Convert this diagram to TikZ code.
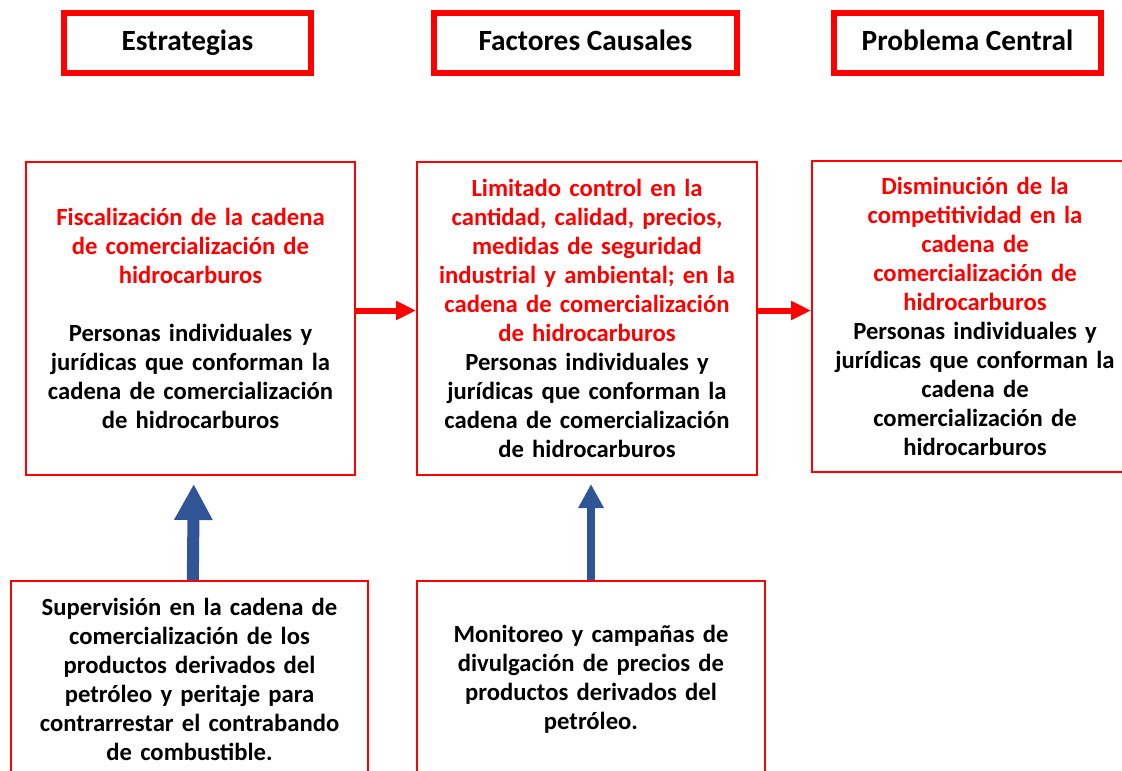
\documentclass[tikz,border=0pt]{standalone}
\usepackage{fontspec}
\setmainfont{Carlito}
\usetikzlibrary{arrows.meta}
\definecolor{rojo}{RGB}{255,0,0}
\definecolor{azul}{RGB}{47,85,151}
\tikzset{
  titulo/.style={draw=rojo,line width=4.5pt,minimum height=45pt,inner sep=0pt,
    text height=15pt,text depth=4pt,font=\fontsize{22}{26}\selectfont\bfseries},
  caja/.style={draw=rojo,line width=1.5pt,inner sep=0pt,align=center,
    font=\fontsize{18.5}{21.75}\selectfont\bfseries},
  flecha/.style={rojo,line width=4.5pt,-{Triangle[length=15pt,width=13.5pt]}},
  subir/.style={azul,line width=9pt,-{Triangle[length=27pt,width=27pt]}}
}
\begin{document}
\begin{tikzpicture}[x=0.75pt,y=-0.75pt]
    \useasboundingbox (0,0) rectangle (1122,771);
    % titulos
    \node[titulo,minimum width=185.25pt] (t1) at (187.5,43) {Estrategias};
    \node[titulo,minimum width=227.25pt] (t2) at (585.5,43) {Factores Causales};
    \node[titulo,minimum width=200.25pt] (t3) at (967.5,43) {Problema Central};
    % cajas
    \node[caja,text width=246.75pt,minimum height=234.75pt] (estr) at (190.5,318.5)
      {\color{rojo}Fiscalización de la cadena\\de comercialización de\\hidrocarburos\\[21.75pt]
       \color{black}Personas individuales y\\jurídicas que conforman la\\cadena de comercialización\\de hidrocarburos};
    \node[caja,text width=255pt,minimum height=234.75pt] (caus) at (587,318.5)
      {\color{rojo}Limitado control en la\\cantidad, calidad, precios,\\medidas de seguridad\\industrial y ambiental; en la\\cadena de comercialización\\de hidrocarburos\\
       \color{black}Personas individuales y\\jurídicas que conforman la\\cadena de comercialización\\de hidrocarburos};
    \node[caja,text width=244.5pt,minimum height=233.25pt] (prob) at (975,316.5)
      {\color{rojo}Disminución de la\\competitividad en la\\cadena de\\comercialización de\\hidrocarburos\\
       \color{black}Personas individuales y\\jurídicas que conforman la\\cadena de\\comercialización de\\hidrocarburos};
    \node[caja,text width=267.75pt,minimum height=147.75pt] (sup) at (189.5,679.5)
      {Supervisión en la cadena de\\comercialización de los\\productos derivados del\\petróleo y peritaje para\\contrarrestar el contrabando\\de combustible.};
    \node[caja,text width=261pt,minimum height=147.75pt] (mon) at (591,679.5)
      {Monitoreo y campañas de\\divulgación de precios de\\productos derivados del\\petróleo.};
    % flechas
    \draw[flecha] ([yshift=6pt]estr.east) -- ([yshift=6pt]caus.west);
    \draw[flecha] ([yshift=6pt]caus.east) -- ([yshift=6pt]caus.east -| prob.west);
    \draw[subir,shorten >=6pt] ([xshift=2.5pt]sup.north) -- ([xshift=2.5pt]estr.south);
    \draw[azul,line width=6pt,-{Triangle[length=18pt,width=18pt]},shorten >=6pt]
      (mon.north) -- (mon.north |- caus.south);
\end{tikzpicture}
\end{document}
